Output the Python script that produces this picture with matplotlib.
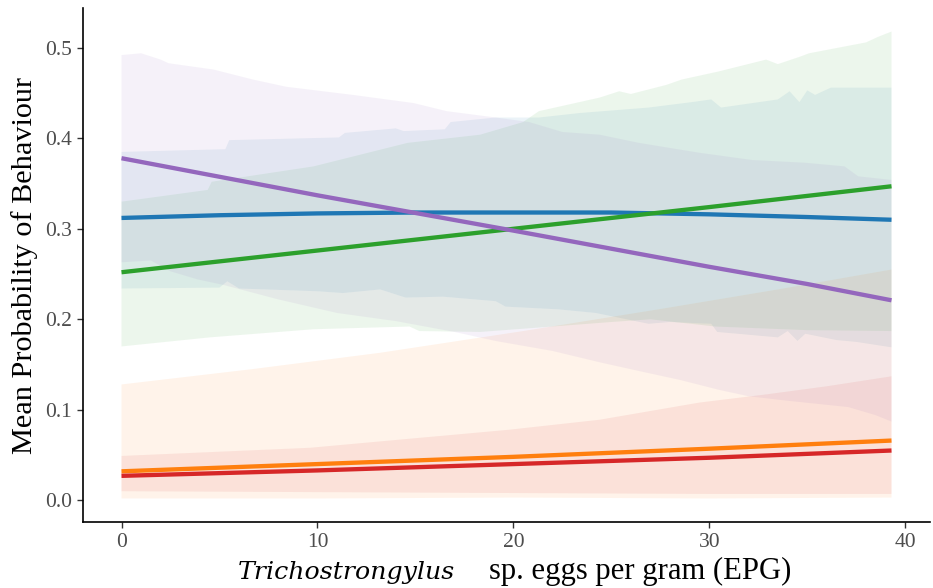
import matplotlib
matplotlib.use("Agg")
import matplotlib.pyplot as plt
import numpy as np

# ---------------- data ----------------
# Blue series
blue_x = [0, 5, 10, 15, 20, 25, 30, 35, 39.3]
blue_y = [0.312, 0.315, 0.317, 0.318, 0.318, 0.318, 0.316, 0.313, 0.310]
blue_up_x = [0, 5.3, 5.5, 11.1, 11.4, 14.0, 14.4, 16.5, 16.8, 19.1, 21.3, 23.4, 26.9,
             29.1, 30.1, 30.6, 33.5, 34.1, 34.6, 35.0, 35.4, 36.2, 39.3]
blue_up_y = [0.385, 0.388, 0.398, 0.401, 0.406, 0.411, 0.408, 0.410, 0.418, 0.423, 0.423,
             0.428, 0.434, 0.440, 0.443, 0.434, 0.443, 0.452, 0.440, 0.453, 0.448, 0.456, 0.456]
blue_lo_x = [0, 5.0, 5.4, 6.0, 10.0, 11.3, 13.2, 14.5, 16.4, 19.1, 19.6, 22.3, 24.2, 26.9,
             28.0, 30.1, 30.4, 33.5, 34.0, 34.5, 34.9, 36.5, 37.5, 39.3]
blue_lo_y = [0.234, 0.235, 0.242, 0.234, 0.231, 0.229, 0.233, 0.224, 0.225, 0.220, 0.214,
             0.211, 0.207, 0.195, 0.197, 0.195, 0.186, 0.180, 0.187, 0.176, 0.184, 0.177,
             0.175, 0.169]

# Green series
green_x = [0, 10, 20, 30, 39.3]
green_y = [0.252, 0.276, 0.300, 0.324, 0.347]
green_up_x = [0, 4.4, 4.6, 9.8, 14.6, 18.3, 20.5, 21.3, 24.4, 25.4, 26.0, 27.8, 28.6, 30.5,
              32.9, 33.5, 34.6, 35.1, 38.0, 38.6, 39.3]
green_up_y = [0.330, 0.343, 0.352, 0.369, 0.395, 0.404, 0.418, 0.430, 0.445, 0.452, 0.449,
              0.459, 0.465, 0.474, 0.487, 0.482, 0.490, 0.494, 0.506, 0.512, 0.518]
green_lo_x = [0, 4.5, 9.8, 14.7, 15.2, 18.3, 22, 25, 27, 30.3, 35, 39.3]
green_lo_y = [0.170, 0.180, 0.189, 0.192, 0.187, 0.186, 0.192, 0.197, 0.200, 0.192, 0.188, 0.187]

# Purple series
purple_x = [0, 10, 20, 27, 30, 35, 39.3]
purple_y = [0.378, 0.337, 0.298, 0.270, 0.258, 0.239, 0.221]
purple_up_x = [0, 1, 2, 2.4, 4.7, 6.7, 8.4, 11.8, 14.9, 16.6, 19.1, 20.8, 22.5, 24.4, 26.4,
               29.5, 32.2, 34.9, 36.9, 37.6, 39.3]
purple_up_y = [0.492, 0.494, 0.487, 0.483, 0.476, 0.465, 0.457, 0.448, 0.439, 0.430, 0.423,
               0.418, 0.407, 0.404, 0.395, 0.384, 0.376, 0.373, 0.369, 0.358, 0.354]
purple_lo_x = [0, 1.5, 2.5, 3.9, 5.2, 8, 11, 14, 17, 19.1, 22, 24.5, 26.8, 28.5, 30.5, 32,
               34, 37.1, 38.5, 39.3]
purple_lo_y = [0.263, 0.265, 0.253, 0.244, 0.238, 0.222, 0.207, 0.198, 0.186, 0.176, 0.165,
               0.152, 0.141, 0.133, 0.122, 0.115, 0.110, 0.103, 0.094, 0.087]

# Orange series
orange_x = [0, 10, 20, 30, 39.3]
orange_y = [0.032, 0.040, 0.048, 0.057, 0.066]
orange_up_x = [0, 6.7, 13.2, 20.5, 27.4, 33.5, 39.3]
orange_up_y = [0.128, 0.145, 0.163, 0.187, 0.211, 0.233, 0.255]
orange_lo_x = [0, 10, 20, 30, 39.3]
orange_lo_y = [0.002, 0.002, 0.003, 0.002, 0.003]

# Red series
red_x = [0, 10, 20, 30, 39.3]
red_y = [0.027, 0.033, 0.040, 0.047, 0.055]
red_up_x = [0, 9.6, 19.8, 24.4, 29.5, 32.9, 36, 39.3]
red_up_y = [0.049, 0.058, 0.078, 0.089, 0.108, 0.117, 0.126, 0.137]
red_lo_x = [0, 10, 20, 30, 39.3]
red_lo_y = [0.010, 0.009, 0.008, 0.007, 0.007]

x_ticks = [0, 10, 20, 30, 40]
y_ticks = [0.0, 0.1, 0.2, 0.3, 0.4, 0.5]
x_label_italic = "Trichostrongylus"
x_label_rest = "sp. eggs per gram (EPG)"
y_label = "Mean Probability of Behaviour"

# ---------------- plotting ----------------
SERIF = ["Liberation Serif", "DejaVu Serif"]
C_BLUE, C_ORANGE, C_GREEN, C_RED, C_PURPLE = "#1f77b4", "#ff7f0e", "#2ca02c", "#d62728", "#9467bd"

fig = plt.figure(figsize=(9.33, 5.88), dpi=100)
ax = fig.add_axes([83 / 933, 66 / 588, (930 - 83) / 933, (580 - 66) / 588])

series = [
    (blue_x, blue_y, blue_up_x, blue_up_y, blue_lo_x, blue_lo_y, C_BLUE),
    (orange_x, orange_y, orange_up_x, orange_up_y, orange_lo_x, orange_lo_y, C_ORANGE),
    (green_x, green_y, green_up_x, green_up_y, green_lo_x, green_lo_y, C_GREEN),
    (red_x, red_y, red_up_x, red_up_y, red_lo_x, red_lo_y, C_RED),
    (purple_x, purple_y, purple_up_x, purple_up_y, purple_lo_x, purple_lo_y, C_PURPLE),
]

for (_, _, ux, uy, lx, ly, c) in series:
    px = list(ux) + list(lx)[::-1]
    py = list(uy) + list(ly)[::-1]
    ax.fill(px, py, color=c, alpha=0.085, linewidth=0, zorder=1)

for (x, y, _, _, _, _, c) in series:
    ax.plot(x, y, color=c, linewidth=3.1, solid_capstyle="butt", zorder=3)

ax.set_xlim(-1.965, 41.265)
ax.set_ylim(-0.024, 0.544)
ax.set_xticks(x_ticks)
ax.set_xticklabels([str(t) for t in x_ticks])
ax.set_yticks(y_ticks)
ax.set_yticklabels([f"{t:.1f}" for t in y_ticks])

for s in ["top", "right"]:
    ax.spines[s].set_visible(False)
for s in ["left", "bottom"]:
    ax.spines[s].set_linewidth(1.2)
    ax.spines[s].set_color("black")

ax.tick_params(axis="both", direction="out", length=4, width=1.0, color="#333333",
               labelcolor="#4d4d4d", labelsize=15.5, pad=4)
for lab in ax.get_xticklabels() + ax.get_yticklabels():
    lab.set_fontfamily(SERIF)

ax.set_ylabel(y_label, fontsize=21.8, family=SERIF, color="black", labelpad=5)

# composite x label: italic genus + regular rest
t1 = fig.text(0, 0, x_label_italic, fontsize=18.2, family=["DejaVu Serif"], style="italic",
              va="baseline", ha="left")
t2 = fig.text(0, 0, x_label_rest, fontsize=22.1, family=SERIF, va="baseline", ha="left")
fig.canvas.draw()
r = fig.canvas.get_renderer()
w1 = t1.get_window_extent(r).width
w2 = t2.get_window_extent(r).width
gap = 34
total = w1 + gap + w2
cx = 515
x0 = cx - total / 2
base_y = 588 - 579
t1.set_position((x0 / 933, base_y / 588))
t2.set_position(((x0 + w1 + gap) / 933, base_y / 588))

fig.savefig("out.png", dpi=100)
